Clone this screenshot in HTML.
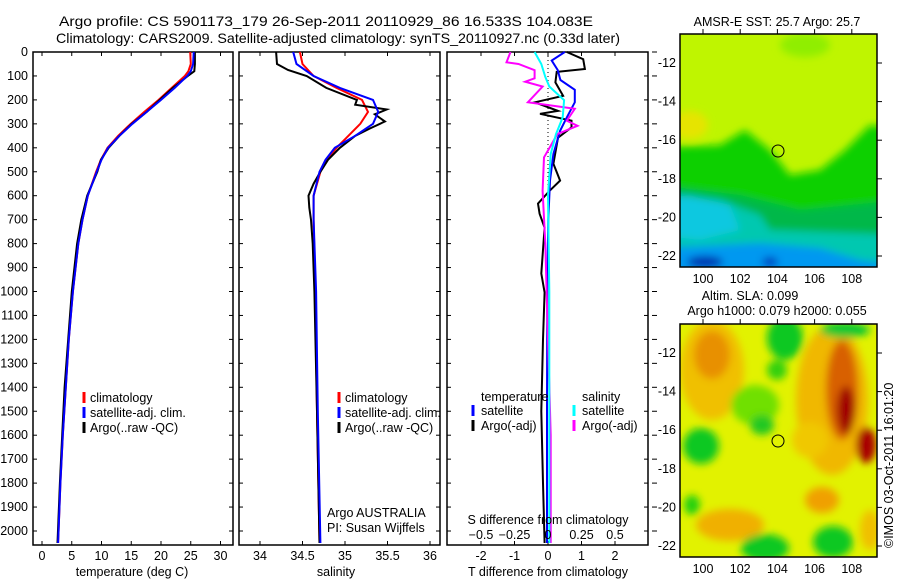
<!DOCTYPE html>
<html><head><meta charset="utf-8"><style>
body{margin:0;background:#fff}
svg{display:block;font-family:"Liberation Sans",sans-serif;font-size:12.5px}
</style></head><body>
<svg id="fig" width="900" height="580" viewBox="0 0 900 580">
<defs>
<filter id="bl" x="-20%" y="-20%" width="140%" height="140%"><feGaussianBlur stdDeviation="4"/></filter>
<clipPath id="c1"><rect x="680" y="34" width="197" height="233"/></clipPath>
<clipPath id="c2"><rect x="680" y="324" width="197" height="233"/></clipPath>
</defs>
<text x="59" y="26" font-size="14" textLength="534" lengthAdjust="spacingAndGlyphs">Argo profile: CS 5901173_179 26-Sep-2011 20110929_86 16.533S 104.083E</text>
<text x="56" y="43" font-size="14" textLength="564" lengthAdjust="spacingAndGlyphs">Climatology: CARS2009. Satellite-adjusted climatology: synTS_20110927.nc (0.33d later)</text>
<g id="maps">
<g clip-path="url(#c1)">
<rect x="680" y="34" width="197" height="233" fill="#bff500"/>
<g filter="url(#bl)">
<ellipse cx="690" cy="125" rx="18" ry="14" fill="#e6e400"/>
<ellipse cx="805" cy="45" rx="25" ry="12" fill="#90ee00"/>
<polygon points="660,147 720,145 745,130 770,150 790,175 820,170 845,150 870,125 900,130 900,300 660,300" fill="#10d000"/>
<polygon points="660,185 740,195 800,210 900,200 900,300 660,300" fill="#00b848"/>
<polygon points="660,193 720,200 760,215 770,230 820,232 900,235 900,300 660,300" fill="#00c8b0"/>
<polygon points="660,196 690,196 730,205 740,230 700,240 660,235" fill="#10c8e0"/>
<polygon points="660,248 760,243 820,248 860,260 900,265 900,300 660,300" fill="#0098f0"/>
<ellipse cx="705" cy="262" rx="18" ry="6" fill="#0030b0"/>
<ellipse cx="770" cy="262" rx="8" ry="5" fill="#0040c0"/>
</g>
</g>
<rect x="680" y="34" width="197" height="233" fill="none" stroke="#000" stroke-width="1.5"/>
<circle cx="778" cy="151" r="6" fill="none" stroke="#000"/>
<text x="777" y="26" text-anchor="middle">AMSR-E SST: 25.7 Argo: 25.7</text>

<g clip-path="url(#c2)">
<rect x="680" y="324" width="197" height="233" fill="#e2f200"/>
<g filter="url(#bl)">
<ellipse cx="712" cy="370" rx="32" ry="50" fill="#f0c000"/>
<ellipse cx="712" cy="355" rx="18" ry="24" fill="#e89000"/>
<ellipse cx="832" cy="400" rx="36" ry="75" fill="#f0b800"/>
<ellipse cx="842" cy="390" rx="16" ry="50" fill="#d86000"/>
<ellipse cx="846" cy="410" rx="9" ry="24" fill="#a00000"/>
<ellipse cx="866" cy="445" rx="10" ry="18" fill="#a80000"/>
<ellipse cx="785" cy="338" rx="18" ry="22" fill="#10c820"/>
<ellipse cx="777" cy="370" rx="10" ry="10" fill="#30d010"/>
<ellipse cx="755" cy="405" rx="24" ry="20" fill="#70e000"/>
<ellipse cx="762" cy="425" rx="12" ry="10" fill="#20c820"/>
<ellipse cx="701" cy="446" rx="18" ry="18" fill="#10c820"/>
<ellipse cx="692" cy="505" rx="8" ry="10" fill="#20d010"/>
<ellipse cx="730" cy="525" rx="34" ry="16" fill="#f0b000"/>
<ellipse cx="822" cy="500" rx="17" ry="13" fill="#f0a000"/>
<ellipse cx="765" cy="548" rx="24" ry="14" fill="#10c820"/>
<ellipse cx="833" cy="542" rx="20" ry="16" fill="#10c820"/>
<ellipse cx="845" cy="330" rx="25" ry="8" fill="#10c830"/>
<ellipse cx="810" cy="440" rx="18" ry="18" fill="#f0c800"/>
<ellipse cx="870" cy="530" rx="10" ry="20" fill="#f0c000"/>
</g>
</g>
<rect x="680" y="324" width="197" height="233" fill="none" stroke="#000" stroke-width="1.5"/>
<circle cx="778" cy="441" r="6" fill="none" stroke="#000"/>
<text x="750" y="300" text-anchor="middle">Altim. SLA: 0.099</text>
<text x="777" y="315" text-anchor="middle">Argo h1000: 0.079 h2000: 0.055</text>
<text transform="translate(893,548) rotate(-90)">©IMOS 03-Oct-2011 16:01:20</text>
</g>
</svg>
<script>
// ---- data ----
const depthTicks=[0,100,200,300,400,500,600,700,800,900,1000,1100,1200,1300,1400,1500,1600,1700,1800,1900,2000];
const tempTicks=[0,5,10,15,20,25,30];
const salTicks=[34,34.5,35,35.5,36];
const tDiffTicks=[-2,-1,0,1,2];
const sDiffTicks=[-0.5,-0.25,0,0.25,0.5];
const latTicks=[-12,-14,-16,-18,-20,-22];
const lonTicks=[100,102,104,106,108];

const tDepth=[0,50,80,100,150,200,250,300,350,400,450,500,600,700,800,1000,1200,1400,1600,1800,2050];
const tClim=[24.9,25.0,24.6,24.0,21.8,19.6,17.2,14.9,12.8,11.0,9.9,9.1,7.7,6.8,6.1,5.2,4.5,4.0,3.5,3.1,2.7];
const tSat=[25.5,25.4,25.0,24.4,22.3,20.0,17.6,15.2,13.0,11.1,10.0,9.2,7.7,6.8,6.1,5.2,4.5,4.0,3.5,3.1,2.7];
const tArgo=[25.7,25.7,25.6,24.5,22.0,19.8,17.6,15.1,13.0,11.2,9.9,9.3,7.6,6.6,5.9,5.0,4.4,3.8,3.4,3.0,2.6];

const sArgoDepth=[0,50,75,100,150,200,220,240,260,290,320,350,400,450,500,550,600,650,700,800,1000,1500,2050];
const sArgo=[34.19,34.2,34.33,34.55,34.78,35.14,35.12,35.49,35.35,35.47,35.29,35.12,34.94,34.8,34.71,34.63,34.57,34.58,34.6,34.62,34.64,34.67,34.70];
const sDepth=[0,50,100,150,200,250,300,350,400,450,500,600,700,1000,1500,2050];
const sClim=[34.47,34.5,34.63,34.9,35.2,35.27,35.18,35.04,34.9,34.78,34.71,34.63,34.63,34.65,34.67,34.70];
const sSat=[34.39,34.43,34.63,34.94,35.33,35.39,35.33,35.12,34.88,34.77,34.7,34.63,34.63,34.66,34.68,34.71];

const dtArgoDepth=[0,30,71,83,127,183,210,246,258,287,315,358,467,537,579,633,675,733,925,1004,1200,1500,1800,2050];
const dtArgo=[0.56,1.05,1.1,0.26,0.22,0.45,-0.39,0.3,-0.24,0.7,0.7,0.3,0.16,0.36,0.05,-0.3,-0.25,-0.1,-0.2,-0.1,-0.15,-0.2,-0.15,-0.1];
const dtSatDepth=[0,36,75,117,158,210,273,329,426,537,700,1000,1500,2050];
const dtSat=[0.5,0.11,0.29,0.37,0.8,0.8,0.56,0.36,0.16,0.06,0.01,-0.02,-0.03,-0.03];
const dsArgoDepth=[0,43,50,76,110,124,144,210,237,287,308,343,440,579,800,1200,1600,2050];
const dsArgo=[-0.28,-0.31,-0.22,-0.1,-0.1,-0.17,-0.04,-0.15,0.2,0.14,0.22,0.07,-0.03,-0.04,-0.02,0.0,0.02,0.02];
const dsSatDepth=[0,50,104,144,201,273,343,426,600,1000,2050];
const dsSat=[-0.1,-0.05,-0.02,0.01,0.12,0.11,0.06,0.02,0.0,0.01,0.01];

// ---- scales ----
const NS='http://www.w3.org/2000/svg';
const svg=document.getElementById('fig');
const yD=d=>52+d*0.2395;
const xT=v=>42+v*5.95;
const xS=v=>260+(v-34)*85;
const xDT=v=>548+v*33.5;
const xDS=v=>548+v*134;
const P={top:52,bot:545};
function el(tag,attrs,parent){const e=document.createElementNS(NS,tag);for(const k in attrs)e.setAttribute(k,attrs[k]);(parent||svg).appendChild(e);return e;}
function txt(x,y,s,anchor,parent){const t=el('text',{x:x,y:y,'text-anchor':anchor||'start'},parent);t.textContent=s;return t;}
function line(depths,vals,xf,color,name,parent){
  const pts=depths.map((d,i)=>xf(vals[i]).toFixed(1)+','+yD(d).toFixed(1)).join(' ');
  const p=el('polyline',{points:pts,fill:'none',stroke:color,'stroke-width':2,'stroke-linejoin':'miter'},parent);
  
  
}
function panel(x0,x1,name){
  const g=el('g',{});
  
  
  el('rect',{x:x0,y:P.top,width:x1-x0,height:P.bot-P.top,fill:'none',stroke:'#000','stroke-width':1.5},g);
  depthTicks.forEach(d=>{
    el('line',{x1:x0,x2:x0+4,y1:yD(d),y2:yD(d),stroke:'#000'},g);
    el('line',{x1:x1,x2:x1-4,y1:yD(d),y2:yD(d),stroke:'#000'},g);
  });
  return g;
}
function legendMark(x,y,color,parent){el('line',{x1:x,x2:x,y1:y-10,y2:y+1,stroke:color,'stroke-width':3},parent);}

// Panel 1
const g1=panel(33,233,'temperature-panel');
depthTicks.forEach(d=>{txt(28,yD(d)+4,String(d),'end',g1);});
tempTicks.forEach(v=>{el('line',{x1:xT(v),x2:xT(v),y1:P.bot,y2:P.bot-4,stroke:'#000'},g1);el('line',{x1:xT(v),x2:xT(v),y1:P.top,y2:P.top+4,stroke:'#000'},g1);txt(xT(v),560,String(v),'middle',g1);});
txt(132,576,'temperature (deg C)','middle',g1);
line(tDepth,tClim,xT,'#ff0000','temp-climatology-line',g1);
line(tDepth,tArgo,xT,'#000000','temp-argo-line',g1);
line(tDepth,tSat,xT,'#0000ff','temp-satellite-line',g1);
const lg1=el('g',{},g1);


[['climatology','#ff0000'],['satellite-adj. clim.','#0000ff'],['Argo(..raw -QC)','#000']].forEach((r,i)=>{legendMark(84,402+i*15,r[1],lg1);txt(90,402+i*15,r[0],'start',lg1);});

// Panel 2
const g2=panel(239,440,'salinity-panel');
salTicks.forEach(v=>{el('line',{x1:xS(v),x2:xS(v),y1:P.bot,y2:P.bot-4,stroke:'#000'},g2);el('line',{x1:xS(v),x2:xS(v),y1:P.top,y2:P.top+4,stroke:'#000'},g2);txt(xS(v),560,String(v),'middle',g2);});
txt(336,576,'salinity','middle',g2);
line(sDepth,sClim,xS,'#ff0000','sal-climatology-line',g2);
line(sArgoDepth,sArgo,xS,'#000000','sal-argo-line',g2);
line(sDepth,sSat,xS,'#0000ff','sal-satellite-line',g2);
const lg2=el('g',{},g2);


[['climatology','#ff0000'],['satellite-adj. clim.','#0000ff'],['Argo(..raw -QC)','#000']].forEach((r,i)=>{legendMark(339,402+i*15,r[1],lg2);txt(345,402+i*15,r[0],'start',lg2);});
txt(327,517,'Argo AUSTRALIA','start',g2);
txt(327,532,'PI: Susan Wijffels','start',g2);

// Panel 3
const g3=panel(447,648,'difference-panel');
depthTicks.forEach(d=>{el('line',{x1:652,x2:657,y1:yD(d),y2:yD(d),stroke:'#000'},g3);});
el('line',{x1:548,x2:548,y1:P.top,y2:200,stroke:'#000','stroke-dasharray':'1,3'},g3);
tDiffTicks.forEach(v=>{el('line',{x1:xDT(v),x2:xDT(v),y1:P.bot,y2:P.bot-4,stroke:'#000'},g3);el('line',{x1:xDT(v),x2:xDT(v),y1:P.top,y2:P.top+4,stroke:'#000'},g3);txt(xDT(v),560,String(v),'middle',g3);});
txt(548,576,'T difference from climatology','middle',g3);
line(dtArgoDepth,dtArgo,xDT,'#000000','tdiff-argo-line',g3);
line(dtSatDepth,dtSat,xDT,'#0000ff','tdiff-satellite-line',g3);
line(dsArgoDepth,dsArgo,xDS,'#ff00ff','sdiff-argo-line',g3);
line(dsSatDepth,dsSat,xDS,'#00ffff','sdiff-satellite-line',g3);
sDiffTicks.forEach(v=>{txt(xDS(v),539,(v<0?'−':'')+String(Math.abs(v)),'middle',g3);});
txt(548,524,'S difference from climatology','middle',g3);
const lg3=el('g',{},g3);


txt(481,401,'temperature','start',lg3);
txt(582,401,'salinity','start',lg3);
[['satellite','#0000ff','#00ffff'],['Argo(-adj)','#000','#ff00ff']].forEach((r,i)=>{
  legendMark(473,415+i*15,r[1],lg3);txt(481,415+i*15,r[0],'start',lg3);
  legendMark(574,415+i*15,r[2],lg3);txt(582,415+i*15,r[0],'start',lg3);
});

// Map axes
function mapAxes(y0,name){
  const g=el('g',{});
  
  
  latTicks.forEach((v,i)=>{const y=y0+29+i*38.6;el('line',{x1:877,x2:882,y1:y,y2:y,stroke:'#000'},g);txt(676,y+4,String(v),'end',g);});
  lonTicks.forEach(v=>{const x=703+(v-100)*18.6;el('line',{x1:x,x2:x,y1:y0-5,y2:y0,stroke:'#000'},g);txt(x,y0+249,String(v),'middle',g);});
}
mapAxes(34,'sst-map-axes');
mapAxes(324,'sla-map-axes');
</script>
</body></html>
